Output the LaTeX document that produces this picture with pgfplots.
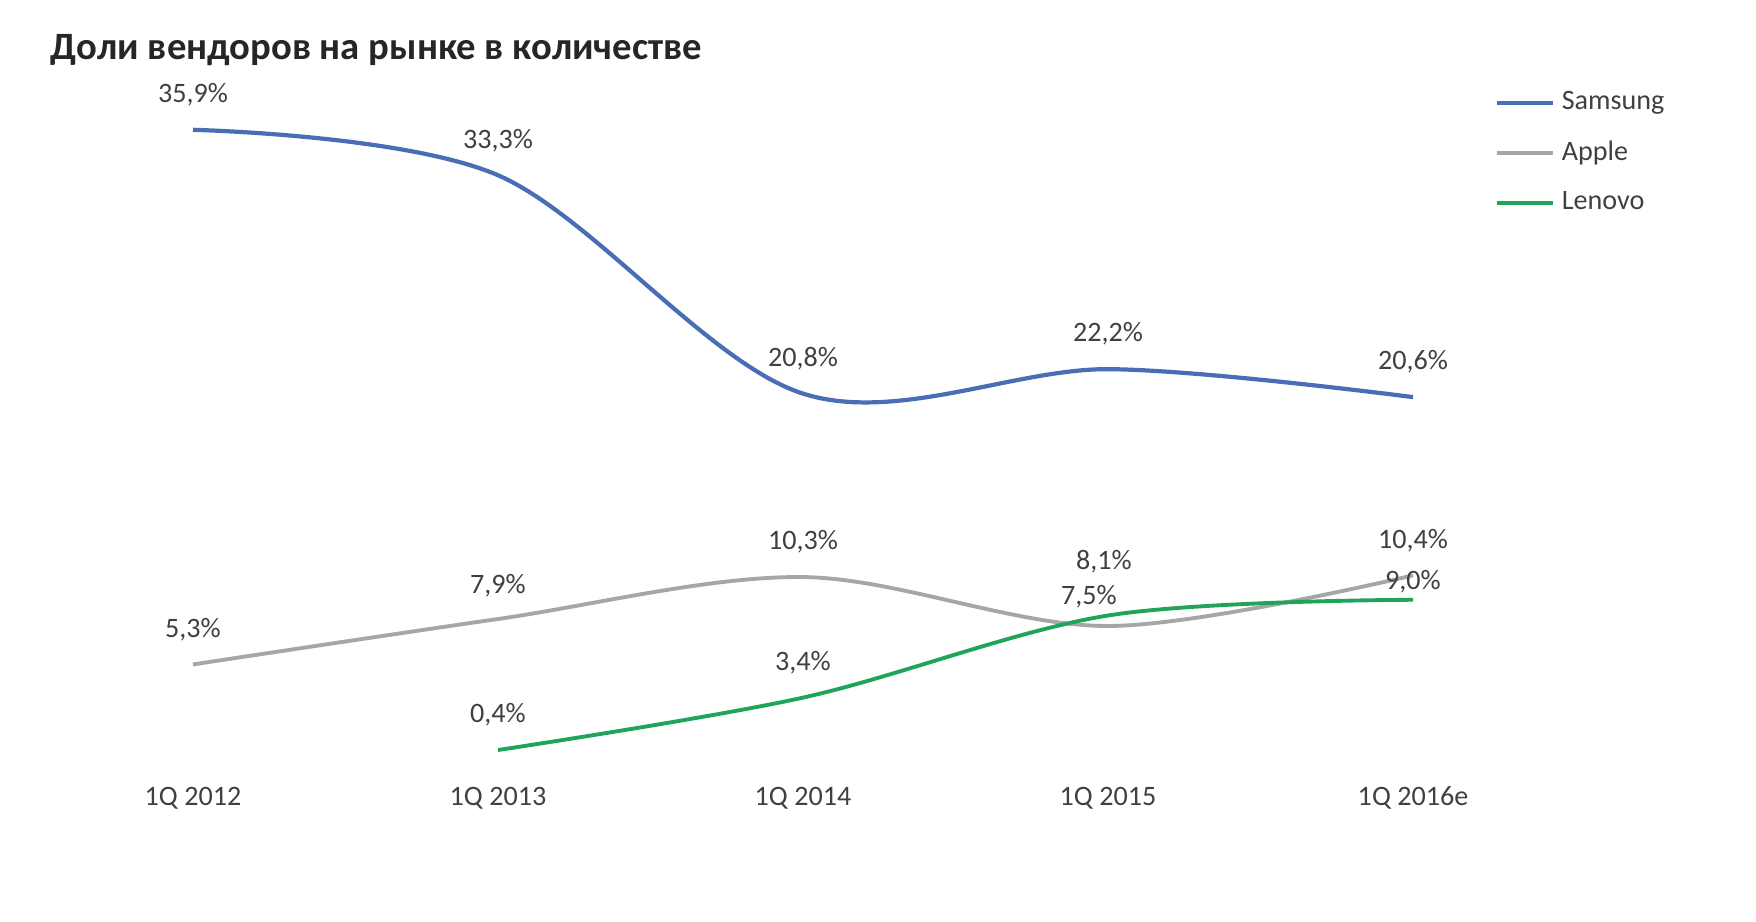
\documentclass[border=0pt]{standalone}
\usepackage{pgfplots}
\pgfplotsset{compat=1.18}
\usepackage{fontspec}
\setmainfont{Carlito}

\definecolor{samsung}{HTML}{4A6EB5}
\definecolor{apple}{HTML}{A6A6A6}
\definecolor{lenovo}{HTML}{20A35B}
\definecolor{txt}{HTML}{404040}

\begin{document}
\begin{tikzpicture}
    % page frame, 1756x922 px at 0.1 mm per px
    \path (0,0) rectangle (175.6mm,92.2mm);
    \node[anchor=west, font=\bfseries\fontsize{11}{13}\selectfont, text=black!85, inner sep=0pt]
        at (5mm,87.15mm) {Доли вендоров на рынке в количестве};

    \begin{axis}[
            at={(4.05mm,14.75mm)},
            anchor=south west,
            scale only axis,
            width=152.5mm,
            height=71.63mm,
            xmin=-0.5, xmax=4.5,
            ymin=-1, ymax=40,
            axis line style={draw=none},
            major tick length=0pt,
            ytick=\empty,
            xtick={0,1,2,3,4},
            xticklabels={1Q 2012, 1Q 2013, 1Q 2014, 1Q 2015, 1Q 2016e},
            xticklabel style={font=\fontsize{8}{9}\selectfont, text=txt},
            /pgf/number format/assume math mode=true,
            clip=false,
            legend style={
                    at={(0.953,0.965)},
                    anchor=north west,
                    draw=none, fill=none,
                    inner sep=0pt,
                    row sep=1.2mm,
                    font=\fontsize{8}{9}\selectfont,
                    text=txt,
                    cells={anchor=west},
                },
            legend image code/.code={\draw[#1] (0mm,0mm) -- (5.6mm,0mm);},
            nodes near coords={\pgfmathprintnumber[fixed,fixed zerofill,precision=1,use comma]{\pgfplotspointmeta}\%},
            visualization depends on={\thisrow{dx} \as \dx},
            visualization depends on={\thisrow{dy} \as \dy},
            every node near coord/.append style={
                    anchor=center, font=\fontsize{8}{9}\selectfont, text=txt,
                    xshift=\dx mm, yshift=\dy mm},
        ]

        \addplot[samsung, line width=1.2pt, smooth, tension=0.55] table {
            x  y     dx    dy
            0  35.9  0     3.5
            1  33.3  0     3.5
            2  20.8  0     3.5
            3  22.2  0     3.5
            4  20.6  0     3.5
        };
        \addlegendentry{Samsung}

        \addplot[apple, line width=1.1pt, smooth, tension=0.55] table {
            x  y     dx    dy
            0  5.3   0     3.5
            1  7.9   0     3.3
            2  10.3  0     3.5
            3  7.5   -1.9  2.9
            4  10.4  0     3.5
        };
        \addlegendentry{Apple}

        \addplot[lenovo, line width=1.1pt, smooth, tension=0.55] table {
            x  y     dx    dy
            1  0.4   0     3.5
            2  3.4   0     3.5
            3  8.1   -0.4  5.4
            4  9.0   0     1.8
        };
        \addlegendentry{Lenovo}
    \end{axis}
\end{tikzpicture}
\end{document}
